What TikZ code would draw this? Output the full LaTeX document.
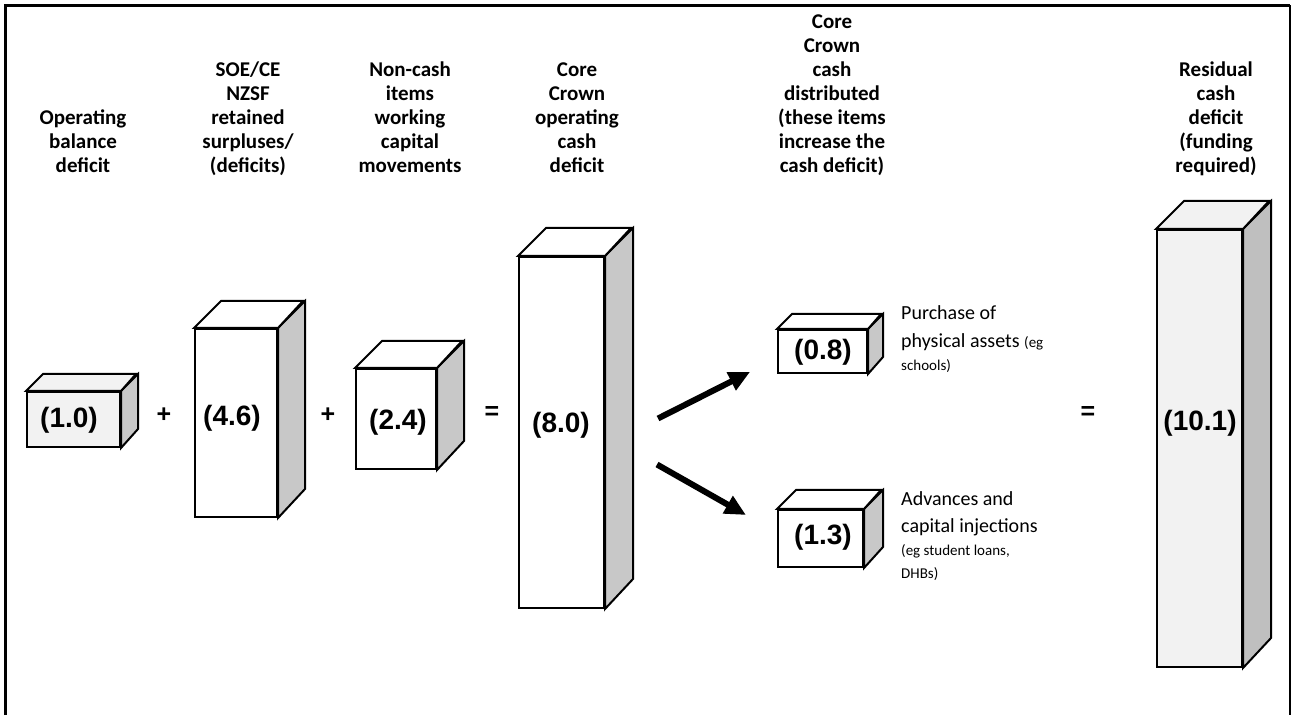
\documentclass[tikz,border=0pt]{standalone}
\usepackage{fontspec}
\setmainfont{Carlito}
\newfontfamily\numfont{Liberation Sans}
\usetikzlibrary{arrows.meta,calc}
\definecolor{sidegray}{HTML}{C8C8C8}
\definecolor{darkside}{HTML}{BFBFBF}
\definecolor{paleface}{HTML}{F2F2F2}
\tikzset{
  front/.style={draw,line width=2pt,inner sep=0pt,fill=white},
  sideface/.style={draw,line width=2pt,fill=sidegray},
  topface/.style={draw,line width=2pt,fill=white},
  num/.style={font=\numfont\bfseries\fontsize{28}{32}\selectfont,inner sep=0pt},
  sign/.style={font=\numfont\bfseries\fontsize{25}{28}\selectfont,inner sep=0pt},
  head/.style={font=\bfseries\fontsize{21}{24}\selectfont,align=center,anchor=south,inner sep=0pt},
  note/.style={font=\fontsize{20}{28}\selectfont,align=left,anchor=north west,inner sep=0pt},
  flow/.style={line width=6pt,-{Triangle[length=21pt,width=19pt]}}
}
\begin{document}
\begin{tikzpicture}[x=1pt,y=1pt]
				\useasboundingbox (0,0) rectangle (1292,715);
				\draw[line width=2.5pt] (5.5,0) -- (5.5,709.5) -- (1290,709.5);
				\draw[line width=1.2pt] (1290,709.5) -- (1290,0);
				% column headings
				\node[head] (h1) at (83,535) {Operating\\balance\\deficit\strut};
				\node[head] (h2) at (248,535) {SOE/CE\\NZSF\\retained\\surpluses/\\(deficits)\strut};
				\node[head] (h3) at (410,535) {Non-cash\\items\\working\\capital\\movements\strut};
				\node[head] (h4) at (577,535) {Core\\Crown\\operating\\cash\\deficit\strut};
				\node[head] (h5) at (832,535) {Core\\Crown\\cash\\distributed\\(these items\\increase the\\cash deficit)\strut};
				\node[head] (h6) at (1216,535) {Residual\\cash\\deficit\\(funding\\required)\strut};
				% boxes
				\node[front,fill=paleface,minimum width=93,minimum height=55] (b10) at (73.5,295.5) {};
				\draw[sideface] (b10.north east) -- ++(17,17) -- ++(0,-55) -- (b10.south east) -- cycle;
				\draw[topface,fill=paleface] (b10.north west) -- ++(17,17) -- ++(93,0) -- (b10.north east) -- cycle;
				\node[front,minimum width=82,minimum height=188] (b46) at (236,292) {};
				\draw[sideface] (b46.north east) -- ++(27,27) -- ++(0,-188) -- (b46.south east) -- cycle;
				\draw[topface] (b46.north west) -- ++(27,27) -- ++(82,0) -- (b46.north east) -- cycle;
				\node[front,minimum width=80,minimum height=100] (b24) at (396,296) {};
				\draw[sideface] (b24.north east) -- ++(27,27) -- ++(0,-100) -- (b24.south east) -- cycle;
				\draw[topface] (b24.north west) -- ++(27,27) -- ++(80,0) -- (b24.north east) -- cycle;
				\node[front,minimum width=85,minimum height=351] (b80) at (561.5,282.5) {};
				\draw[sideface] (b80.north east) -- ++(28,28) -- ++(0,-351) -- (b80.south east) -- cycle;
				\draw[topface] (b80.north west) -- ++(28,28) -- ++(85,0) -- (b80.north east) -- cycle;
				\node[front,minimum width=89,minimum height=43] (b08) at (822.5,363.5) {};
				\draw[sideface] (b08.north east) -- ++(15,15) -- ++(0,-43) -- (b08.south east) -- cycle;
				\draw[topface] (b08.north west) -- ++(15,15) -- ++(89,0) -- (b08.north east) -- cycle;
				\node[front,minimum width=85,minimum height=57] (b13) at (820.5,176.5) {};
				\draw[sideface] (b13.north east) -- ++(19,19) -- ++(0,-57) -- (b13.south east) -- cycle;
				\draw[topface] (b13.north west) -- ++(19,19) -- ++(85,0) -- (b13.north east) -- cycle;
				\node[front,fill=paleface,minimum width=85,minimum height=437] (b101) at (1199.5,266.5) {};
				\draw[sideface,fill=darkside] (b101.north east) -- ++(28,28) -- ++(0,-437) -- (b101.south east) -- cycle;
				\draw[topface,fill=paleface] (b101.north west) -- ++(28,28) -- ++(85,0) -- (b101.north east) -- cycle;
				% values
				\node[num] (v10) at (69,295) {(1.0)};
				\node[num] (v46) at (232,297) {(4.6)};
				\node[num] (v24) at (398,293) {(2.4)};
				\node[num] (v80) at (561,290) {(8.0)};
				\node[num] (v08) at (823,363) {(0.8)};
				\node[num] (v13) at (823,178) {(1.3)};
				\node[num] (v101) at (1200,292) {(10.1)};
				% signs
				\node[sign] (s1) at (164,300) {+};
				\node[sign] (s2) at (328,300) {+};
				\node[sign] (s3) at (492,302) {=};
				\node[sign] (s4) at (1088,302) {=};
				% notes
				\node[note] (n08) at (901,415.6) {\strut Purchase of\\physical assets {\fontsize{15}{28}\selectfont(eg}\\[-5pt]{\fontsize{15}{28}\selectfont schools)}};
				\node[note,font=\fontsize{20}{27}\selectfont] (n13) at (901,228.9) {\strut Advances and\\capital injections\\[-4pt]{\fontsize{15}{27}\selectfont(eg student loans,}\\[-4pt]{\fontsize{15}{27}\selectfont DHBs)}};
				% arrows
				\draw[flow] ($(b80.east)+(53,14)$) -- ($(b08.south west)+(-27,2)$);
				\draw[flow] ($(b80.east)+(52,-32)$) -- ($(b13.north west)+(-31,-6)$);
\end{tikzpicture}
\end{document}
